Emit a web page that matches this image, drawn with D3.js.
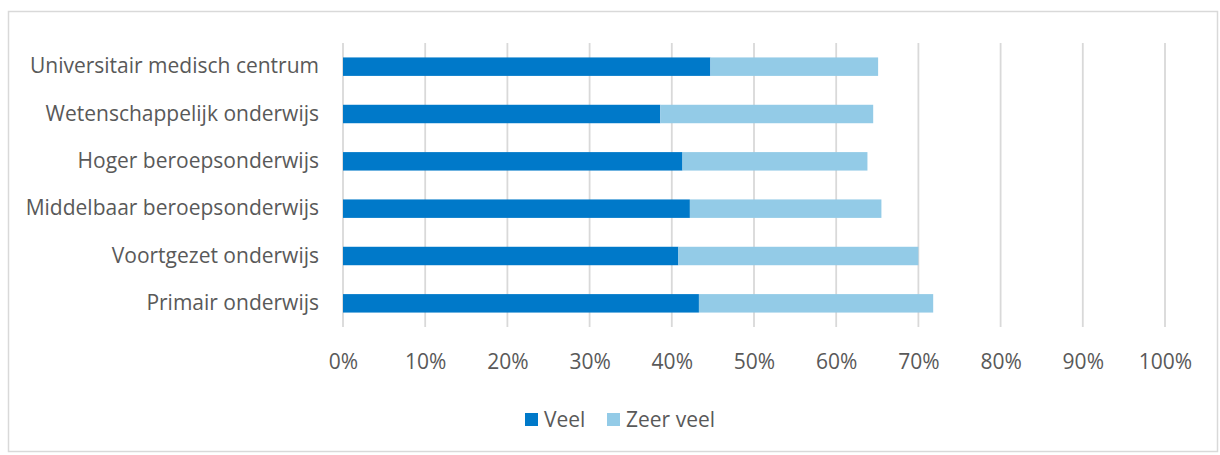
<!DOCTYPE html>
<html>
<head>
<meta charset="utf-8">
<script src="https://cdn.jsdelivr.net/npm/d3@7/dist/d3.min.js"></script>
<style>
  html, body { margin: 0; padding: 0; background: #fff; }
  svg text { font-family: "Open Sans", "Noto Sans", sans-serif; fill: #595959; }
</style>
</head>
<body>
<svg id="chart" width="1220" height="455"></svg>
<script>
// Categories, top to bottom
const categories = [
  "Universitair medisch centrum",
  "Wetenschappelijk onderwijs",
  "Hoger beroepsonderwijs",
  "Middelbaar beroepsonderwijs",
  "Voortgezet onderwijs",
  "Primair onderwijs"
];
// Share answering "Veel" and "Zeer veel" (%)
const veel     = [44.7, 38.6, 41.3, 42.2, 40.8, 43.3];
const zeerVeel = [20.4, 25.9, 22.5, 23.3, 29.2, 28.5];
const seriesNames = ["Veel", "Zeer veel"];
const seriesColors = ["#0079C9", "#93CBE7"];
const tickValues = [0, 10, 20, 30, 40, 50, 60, 70, 80, 90, 100];

const svg = d3.select("#chart");

// Outer chart border
svg.append("rect")
  .attr("x", 8.5).attr("y", 11.5)
  .attr("width", 1209).attr("height", 440)
  .attr("fill", "none").attr("stroke", "#D9D9D9").attr("stroke-width", 1.5);

const plot = { left: 343, right: 1165, top: 43, bottom: 327 };

const x = d3.scaleLinear().domain([0, 100]).range([plot.left, plot.right]);
const y = d3.scaleBand().domain(categories).range([plot.top, plot.bottom]).paddingInner(0.61).paddingOuter(0.305);

// Vertical gridlines
svg.append("g").selectAll("line").data(tickValues).join("line")
  .attr("x1", d => x(d)).attr("x2", d => x(d))
  .attr("y1", plot.top).attr("y2", plot.bottom)
  .attr("stroke", "#D9D9D9").attr("stroke-width", 1.8);

// Stacked bars
const rows = categories.map((c, i) => ({ cat: c, Veel: veel[i], "Zeer veel": zeerVeel[i] }));
const stacked = d3.stack().keys(seriesNames)(rows);
svg.append("g").selectAll("g").data(stacked).join("g")
  .attr("fill", (d, i) => seriesColors[i])
  .selectAll("rect").data(d => d).join("rect")
  .attr("x", d => x(d[0]))
  .attr("width", d => x(d[1]) - x(d[0]))
  .attr("y", d => y(d.data.cat))
  .attr("height", y.bandwidth());

// Category axis labels
const yAxis = d3.axisLeft(y).tickSize(0).tickPadding(24);
const gy = svg.append("g").attr("transform", `translate(${plot.left},0)`).call(yAxis);
gy.select(".domain").remove();
gy.selectAll("text").attr("font-size", 21).style("font-family", null);

// Percentage axis labels
const xAxis = d3.axisBottom(x).tickValues(tickValues).tickFormat(d => d + "%").tickSize(0).tickPadding(27);
const gx = svg.append("g").attr("transform", `translate(0,${plot.bottom})`).call(xAxis);
gx.select(".domain").remove();
gx.selectAll("text").attr("font-size", 21).style("font-family", null);

// Legend
const legendItems = [
  { name: seriesNames[0], color: seriesColors[0], x: 525 },
  { name: seriesNames[1], color: seriesColors[1], x: 607 }
];
const lg = svg.append("g").selectAll("g").data(legendItems).join("g")
  .attr("transform", d => `translate(${d.x},413)`);
lg.append("rect").attr("width", 13).attr("height", 13).attr("fill", d => d.color);
lg.append("text").attr("x", 19).attr("y", 6.5).attr("dy", "0.35em")
  .attr("font-size", 21).text(d => d.name);
</script>
</body>
</html>
